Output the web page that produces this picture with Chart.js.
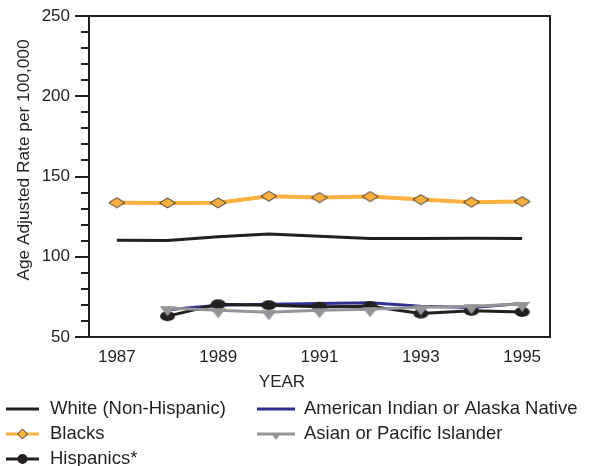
<!DOCTYPE html>
<html lang="en">
<head>
  <meta charset="UTF-8">
  <title>Age Adjusted Rate per 100,000, 1987-1995</title>
  <script src="https://cdn.jsdelivr.net/npm/chart.js"></script>
  <style>
    body { margin: 0; background: #fff; }
  </style>
</head>
<body>
  <canvas id="chart" width="590" height="466"></canvas>

  <script>
    /* Data. */
    const years = [1987, 1988, 1989, 1990, 1991, 1992, 1993, 1994, 1995]
    const yearTicks = [1987, 1989, 1991, 1993, 1995]
    const white = [110.3, 110.2, 112.5, 114.2, 112.7, 111.3, 111.3, 111.5, 111.3]
    const blacks = [133.7, 133.5, 133.6, 137.7, 136.9, 137.5, 135.6, 134.0, 134.4]
    const hispanics = [null, 63.0, 70.4, 69.8, 68.8, 69.2, 64.6, 66.3, 65.6]
    const amerIndian = [null, 67.0, 69.8, 70.4, 70.9, 71.3, 69.2, 68.4, 70.9]
    const asian = [null, 68.0, 66.7, 65.4, 66.7, 67.3, 68.5, 69.2, 70.6]

    const ink = "#231f20"
    const orange = "#fbb040"
    const blue = "#2e3192"
    const gray = "#939598"
    const font = "'Liberation Sans', Arial, sans-serif"

    /* Small canvases for the squashed markers. */
    const marker = (shape, w, h, fill, stroke) => {
      const c = document.createElement("canvas")
      c.width = w + 2
      c.height = shape === "triangle" ? 2 * h : h + 2
      const g = c.getContext("2d")
      const cx = c.width / 2
      g.fillStyle = fill
      g.beginPath()
      if (shape === "diamond") {
        const cy = c.height / 2
        g.moveTo(cx - w / 2, cy); g.lineTo(cx, cy - h / 2)
        g.lineTo(cx + w / 2, cy); g.lineTo(cx, cy + h / 2)
        g.closePath()
      } else if (shape === "ellipse") {
        g.ellipse(cx, c.height / 2, w / 2, h / 2, 0, 0, Math.PI * 2)
      } else {
        const top = h - 2
        g.moveTo(cx - w / 2, top); g.lineTo(cx + w / 2, top)
        g.lineTo(cx, top + h); g.closePath()
      }
      g.fill()
      if (stroke) { g.strokeStyle = stroke; g.lineWidth = 1; g.stroke() }
      return c
    }

    const toPoints = arr => years.map((x, i) => ({ x: x, y: arr[i] }))

    const datasets = [
      { label: "White (Non-Hispanic)", data: toPoints(white), borderColor: ink, borderWidth: 3,
        pointRadius: 0, order: 5, legendMarker: null },
      { label: "Blacks", data: toPoints(blacks), borderColor: orange, borderWidth: 4,
        pointStyle: marker("diamond", 16, 10, orange, "#333"), order: 4, legendMarker: "diamond" },
      { label: "Hispanics*", data: toPoints(hispanics), borderColor: ink, borderWidth: 3,
        pointStyle: marker("ellipse", 15, 10, ink), order: 2, legendMarker: "circle" },
      { label: "American Indian or Alaska Native", data: toPoints(amerIndian), borderColor: blue, borderWidth: 3,
        pointRadius: 0, order: 3, legendMarker: null },
      { label: "Asian or Pacific Islander", data: toPoints(asian), borderColor: gray, borderWidth: 3,
        pointStyle: marker("triangle", 16, 10, gray), order: 1, legendMarker: "triangle" }
    ]
    datasets.forEach(d => { d.fill = false; d.tension = 0 })

    /* Frame, y tick marks, axis titles and the two-column legend. */
    const extras = {
      id: "extras",
      beforeDatasetsDraw(chart) {
        const { ctx, chartArea: a, scales: { y } } = chart
        ctx.save()
        ctx.strokeStyle = ink
        ctx.lineWidth = 2
        ctx.strokeRect(a.left, a.top, a.right - a.left, a.bottom - a.top)
        for (let v = 50; v <= 250; v += 10) {
          const py = Math.round(y.getPixelForValue(v))
          const len = v % 50 === 0 ? 14 : 8
          ctx.beginPath()
          ctx.moveTo(a.left - len, py)
          ctx.lineTo(a.left, py)
          ctx.stroke()
        }
        ctx.fillStyle = ink
        ctx.textAlign = "center"
        ctx.textBaseline = "middle"
        ctx.font = "17px " + font
        ctx.fillText("YEAR", 282, 382)
        ctx.translate(24, 160)
        ctx.rotate(-Math.PI / 2)
        ctx.font = "17.3px " + font
        ctx.fillText("Age Adjusted Rate per 100,000", 0, 0)
        ctx.restore()
      },
      afterDraw(chart) {
        const ctx = chart.ctx
        const cols = [{ x0: 6, x1: 39, tx: 50 }, { x0: 257, x1: 295, tx: 304 }]
        const rowY = [409, 434, 459]
        ctx.save()
        chart.data.datasets.forEach((d, i) => {
          const col = cols[i < 3 ? 0 : 1]
          const cy = rowY[i < 3 ? i : i - 3]
          const mx = (col.x0 + col.x1) / 2
          ctx.strokeStyle = d.borderColor
          ctx.lineWidth = 3
          ctx.beginPath()
          ctx.moveTo(col.x0, cy)
          ctx.lineTo(col.x1, cy)
          ctx.stroke()
          ctx.fillStyle = d.borderColor
          ctx.beginPath()
          if (d.legendMarker === "diamond") {
            ctx.moveTo(mx - 5, cy); ctx.lineTo(mx, cy - 5); ctx.lineTo(mx + 5, cy); ctx.lineTo(mx, cy + 5)
            ctx.closePath(); ctx.fill()
            ctx.strokeStyle = "#333"; ctx.lineWidth = 1; ctx.stroke()
          } else if (d.legendMarker === "circle") {
            ctx.arc(mx, cy, 5, 0, Math.PI * 2); ctx.fill()
          } else if (d.legendMarker === "triangle") {
            ctx.moveTo(mx - 5, cy - 1); ctx.lineTo(mx + 5, cy - 1); ctx.lineTo(mx, cy + 6)
            ctx.closePath(); ctx.fill()
          }
          ctx.fillStyle = ink
          ctx.font = "18.5px " + font
          ctx.textAlign = "left"
          ctx.textBaseline = "middle"
          ctx.fillText(d.label, col.tx, cy)
        })
        ctx.restore()
      }
    }

    const ctx = document.getElementById("chart").getContext("2d")
    const myChart = new Chart(ctx, {
      type: "line",
      data: { datasets: datasets },
      options: {
        responsive: false,
        animation: false,
        layout: { padding: { top: 16, right: 40, left: 0, bottom: 0 } },
        scales: {
          x: {
            type: "linear",
            min: 1986.45,
            max: 1995.55,
            grid: { display: false, drawTicks: false },
            border: { display: false },
            afterBuildTicks: s => { s.ticks = yearTicks.map(v => ({ value: v })) },
            afterFit: s => { s.height = 129 },
            ticks: {
              padding: 10,
              color: ink,
              font: { family: font, size: 17 },
              callback: v => String(v)
            }
          },
          y: {
            min: 50,
            max: 250,
            /* tick marks are drawn by the plugin; tickLength only spaces the labels */
            grid: { display: false, drawTicks: true, tickLength: 17 },
            border: { display: false },
            afterFit: s => { s.width = 89 },
            ticks: {
              stepSize: 50,
              padding: 2,
              color: ink,
              font: { family: font, size: 17 }
            }
          }
        },
        plugins: {
          legend: { display: false },
          tooltip: { enabled: false }
        }
      },
      plugins: [extras]
    })
  </script>
</body>
</html>
